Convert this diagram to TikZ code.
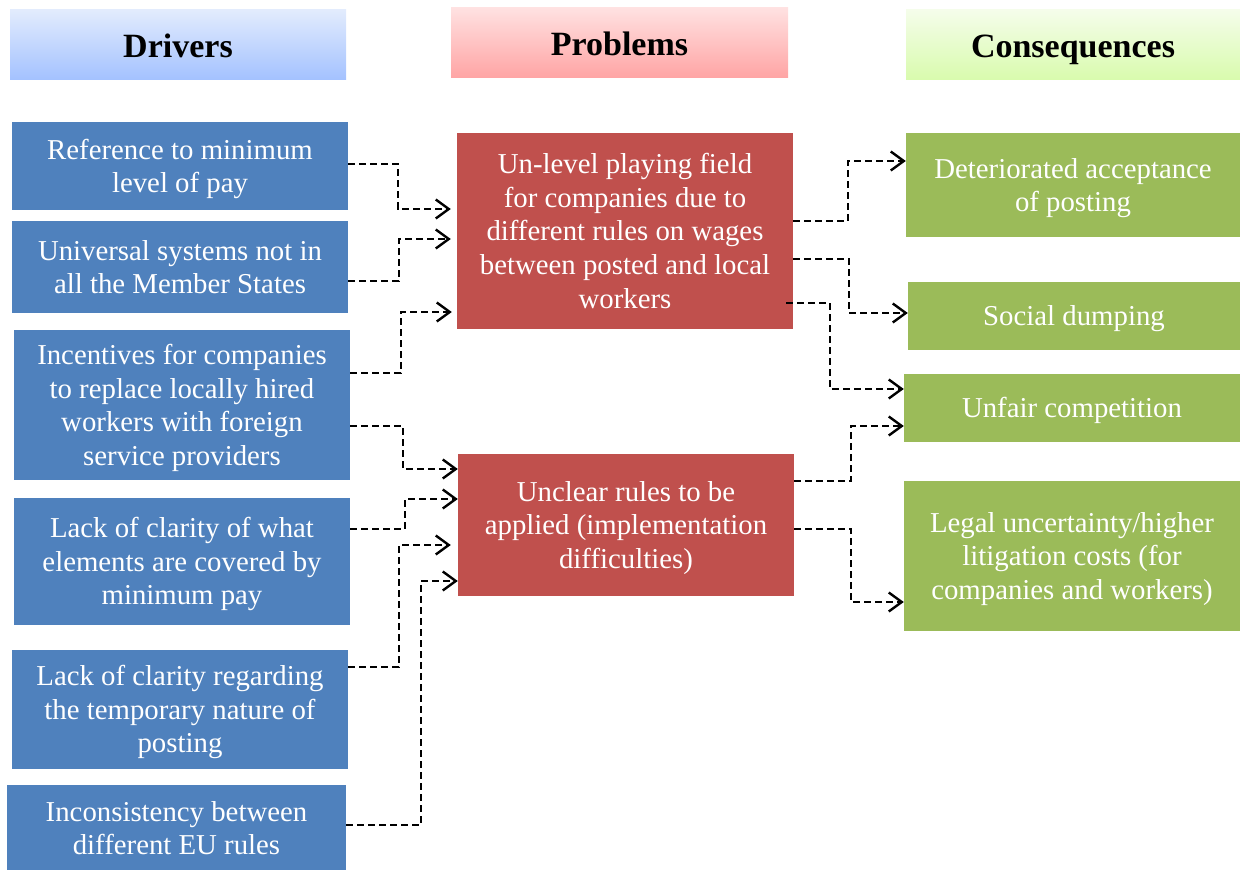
\documentclass[tikz,border=0pt]{standalone}
\usepackage{fontspec}
\setmainfont{Liberation Serif}
\usetikzlibrary{arrows.meta}
\definecolor{drvblue}{HTML}{4F81BD}
\definecolor{prbred}{HTML}{C0504D}
\definecolor{cnsgreen}{HTML}{9BBB59}
\definecolor{hbTop}{RGB}{227,236,253}
\definecolor{hbBot}{RGB}{164,194,255}
\definecolor{hrTop}{RGB}{255,226,226}
\definecolor{hrBot}{RGB}{255,165,165}
\definecolor{hgTop}{RGB}{245,253,235}
\definecolor{hgBot}{RGB}{217,251,174}
\newcommand\lnstrut{\rule[-6.4pt]{0pt}{32.4pt}}
\tikzset{
  box/.style={rectangle, inner sep=0pt, draw=none, text=white, align=center,
    font=\fontsize{28.8}{33.6}\selectfont},
  drv/.style={box, fill=drvblue},
  prb/.style={box, fill=prbred},
  cns/.style={box, fill=cnsgreen},
  hdr/.style={rectangle, inner sep=0pt, draw=none, text=black,
    text height=28pt, text depth=2pt,
    font=\fontsize{34}{40}\selectfont\bfseries},
  conn/.style={line width=2.2pt, dash pattern=on 7pt off 4pt,
    -{Straight Barb[length=13pt,width=19pt,line width=2.4pt]}}
}
\begin{document}
\begin{tikzpicture}[x=1pt,y=-1pt]
\useasboundingbox (0,0) rectangle (1240,870);
% headers
\node[hdr, top color=hbTop, bottom color=hbBot, minimum width=336pt, minimum height=70pt] (h1) at (178,44) {Drivers};
\node[hdr, top color=hrTop, bottom color=hrBot, minimum width=337pt, minimum height=70pt] (h2) at (619.5,42) {Problems};
\node[hdr, top color=hgTop, bottom color=hgBot, minimum width=334pt, minimum height=70pt] (h3) at (1073,44) {Consequences};
% drivers
\node[drv, minimum width=336pt, minimum height=88pt] (d1) at (180,166) {\lnstrut Reference to minimum\\level of pay\lnstrut};
\node[drv, minimum width=336pt, minimum height=92pt] (d2) at (180,267) {\lnstrut Universal systems not in\\all the Member States\lnstrut};
\node[drv, minimum width=336pt, minimum height=150pt] (d3) at (182,405) {\lnstrut Incentives for companies\\to replace locally hired\\workers with foreign\\service providers\lnstrut};
\node[drv, minimum width=336pt, minimum height=127pt] (d4) at (182,561.5) {\lnstrut Lack of clarity of what\\elements are covered by\\minimum pay\lnstrut};
\node[drv, minimum width=336pt, minimum height=119pt] (d5) at (180,709.5) {\lnstrut Lack of clarity regarding\\the temporary nature of\\posting\lnstrut};
\node[drv, minimum width=339pt, minimum height=86pt] (d6) at (176.5,828) {\lnstrut Inconsistency between\\different EU rules\lnstrut};
% problems
\node[prb, minimum width=336pt, minimum height=196pt] (p1) at (625,231) {\lnstrut Un-level playing field\\for companies due to\\different rules on wages\\between posted and local\\workers\lnstrut};
\node[prb, minimum width=336pt, minimum height=142pt] (p2) at (626,525) {\lnstrut Unclear rules to be\\applied (implementation\\difficulties)\lnstrut};
% consequences
\node[cns, minimum width=334pt, minimum height=104pt] (c1) at (1073,185) {\lnstrut Deteriorated acceptance\\of posting\lnstrut};
\node[cns, minimum width=332pt, minimum height=68pt] (c2) at (1074,316) {\lnstrut Social dumping};
\node[cns, minimum width=336pt, minimum height=68pt] (c3) at (1072,408) {\lnstrut Unfair competition};
\node[cns, minimum width=336pt, minimum height=150pt] (c4) at (1072,556) {\lnstrut Legal uncertainty/higher\\litigation costs (for\\companies and workers)\lnstrut};
% connectors drivers -> problems
\draw[conn, shorten >=6pt] (d1.east |- 0,164) -- (398,164) |- (p1.west |- 0,209);
\draw[conn, shorten >=6pt] (d2.east |- 0,281) -- (399,281) |- (p1.west |- 0,239);
\draw[conn, shorten >=5pt] (d3.east |- 0,373) -- (401,373) |- (p1.west |- 0,312);
\draw[conn] (d3.east |- 0,426) -- (403,426) |- (p2.west |- 0,469);
\draw[conn] (d4.east |- 0,529) -- (405,529) |- (p2.west |- 0,499);
\draw[conn, shorten >=7pt] (d5.east |- 0,667) -- (399,667) |- (p2.west |- 0,545);
\draw[conn] (d6.east |- 0,825) -- (421,825) |- (p2.west |- 0,581);
% connectors problems -> consequences
\draw[conn] (p1.east |- 0,221) -- (848,221) |- (c1.west |- 0,161);
\draw[conn] (p1.east |- 0,259) -- (849,259) |- (c2.west |- 0,313);
\draw[conn] ([xshift=-7pt]p1.east |- 0,303) -- (830,303) |- (c3.west |- 0,389);
\draw[conn] (p2.east |- 0,481) -- (851,481) |- (c3.west |- 0,426);
\draw[conn] (p2.east |- 0,529) -- (851,529) |- (c4.west |- 0,602);
\end{tikzpicture}
\end{document}
